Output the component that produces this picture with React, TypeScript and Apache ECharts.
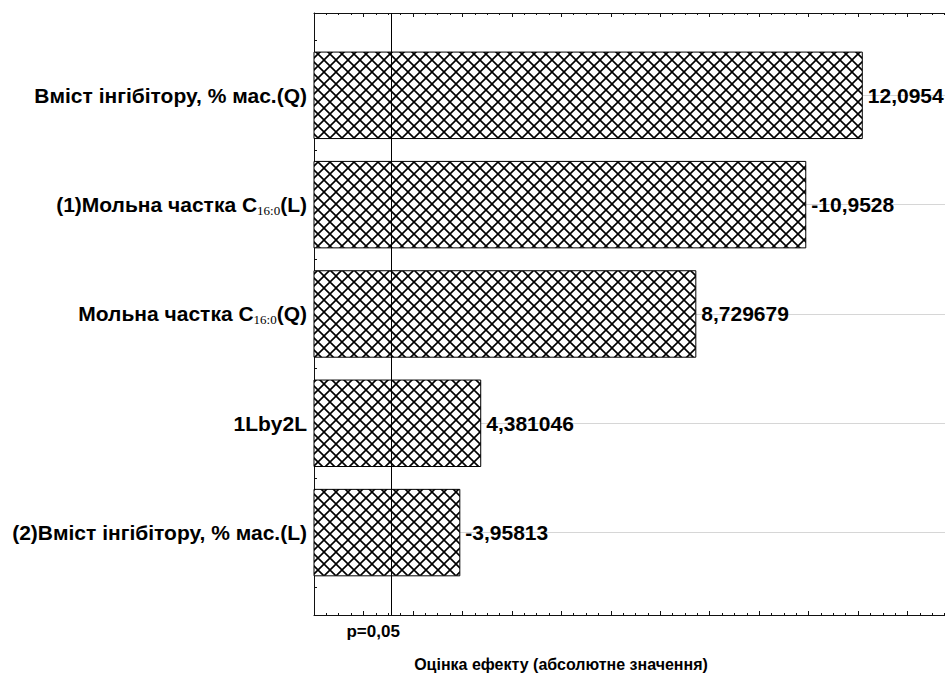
import React, { useEffect, useRef } from "react";
import * as echarts from "echarts";

// ---- data ----
const categories: string[] = [
  "Вміст інгібітору, % мас.(Q)",
  "(1)Мольна частка C_{16:0}(L)",
  "Мольна частка C_{16:0}(Q)",
  "1Lby2L",
  "(2)Вміст інгібітору, % мас.(L)",
];
const effects: number[] = [12.0954, -10.9528, 8.729679, 4.381046, -3.95813];
const pCritical = 2.5706;
const pLabel = "p=0,05";
const xMin = 1;
const xMax = 14;
const xStep = 1;
const xTitle = "Оцінка ефекту (абсолютне значення)";

const FONT = "'Liberation Sans', Arial, sans-serif";

function richLabel(s: string): string {
  return s
    .split(/(_\{[^}]*\})/)
    .filter((p) => p.length > 0)
    .map((p) => (p.startsWith("_{") ? `{sub|${p.slice(2, -1)}}` : `{b|${p}}`))
    .join("");
}

function fmt(v: number): string {
  return String(v).replace(".", ",");
}

function makeHatch(s: number): HTMLCanvasElement {
  const c = document.createElement("canvas");
  c.width = s;
  c.height = s;
  const ctx = c.getContext("2d")!;
  ctx.fillStyle = "#ffffff";
  ctx.fillRect(0, 0, s, s);
  ctx.strokeStyle = "#000000";
  ctx.lineWidth = 1.6;
  ctx.beginPath();
  ctx.moveTo(-1, -1);
  ctx.lineTo(s + 1, s + 1);
  ctx.moveTo(s + 1, -1);
  ctx.lineTo(-1, s + 1);
  ctx.stroke();
  return c;
}

export default function App() {
  const ref = useRef<HTMLDivElement>(null);
  useEffect(() => {
    if (!ref.current) return;
    const chart = echarts.init(ref.current, undefined, { renderer: "svg" });
    const hatchSize = 12;
    const hatch = makeHatch(hatchSize);
    const axisBlack = { color: "#111", width: 1 };
    const frameX = (position: "top" | "bottom") => ({
      gridIndex: 0,
      type: "value",
      position,
      min: xMin,
      max: xMax,
      interval: xStep,
      axisLine: { show: true, onZero: false, lineStyle: axisBlack },
      axisTick: { show: true, inside: true, length: 4, lineStyle: axisBlack },
      minorTick: { show: true, splitNumber: 4, length: 2, lineStyle: axisBlack },
      axisLabel: { show: false },
      splitLine: { show: false },
    });
    const hiddenX = (gridIndex: number) => ({
      gridIndex,
      type: "value",
      min: xMin,
      max: xMax,
      show: false,
      splitLine: { show: false },
    });
    const gridW = 643;
    const gridBase = { left: 314, width: gridW, outerBoundsMode: "none", containLabel: false };
    chart.setOption({
      animation: false,
      grid: [
        { ...gridBase, top: 13, height: 602 },
        { ...gridBase, top: 40.66, height: 546.6 },
        { ...gridBase, top: 95.32, height: 437.28 },
      ],
      xAxis: [frameX("bottom"), frameX("top"), hiddenX(1), hiddenX(2)],
      yAxis: [
        {
          gridIndex: 0,
          type: "value",
          min: 0,
          max: 1,
          axisLine: { show: true, onZero: false, lineStyle: axisBlack },
          axisTick: { show: false },
          axisLabel: { show: false },
          splitLine: { show: false },
        },
        {
          gridIndex: 1,
          type: "category",
          data: categories,
          inverse: true,
          axisLine: { show: false },
          axisTick: { show: true, inside: true, length: 3, lineStyle: axisBlack },
          axisLabel: {
            margin: 7,
            formatter: (v: string) => richLabel(v),
            rich: {
              b: {
                fontFamily: FONT,
                fontWeight: "bold",
                fontSize: 21,
                color: "#000",
                lineHeight: 24,
              },
              sub: {
                fontFamily: "'Liberation Serif', 'Times New Roman', serif",
                fontSize: 13,
                color: "#000",
                lineHeight: 15,
                verticalAlign: "bottom",
              },
            },
          },
          splitLine: { show: false },
        },
        {
          gridIndex: 2,
          type: "value",
          min: 0,
          max: 4,
          interval: 1,
          inverse: true,
          axisLine: { show: false },
          axisTick: { show: false },
          axisLabel: { show: false },
          splitLine: { show: true, lineStyle: { color: "#d6d6d6", width: 1 } },
        },
      ],
      series: [
        {
          type: "bar",
          xAxisIndex: 2,
          yAxisIndex: 1,
          data: effects.map((v) => Math.abs(v)),
          barWidth: "80%",
          z: 2,
          itemStyle: {
            color: {
              image: hatch,
              repeat: "repeat",
              imageWidth: hatchSize,
              imageHeight: hatchSize,
            } as any,
            borderColor: "#000",
            borderWidth: 1,
          },
          label: {
            show: true,
            position: "right",
            distance: 5,
            formatter: (p: any) => fmt(effects[p.dataIndex]),
            fontFamily: FONT,
            fontWeight: "bold",
            fontSize: 21,
            color: "#000",
          },
        },
        {
          type: "line",
          xAxisIndex: 0,
          yAxisIndex: 0,
          data: [],
          z: 3,
          markLine: {
            silent: true,
            symbol: ["none", "none"],
            lineStyle: { color: "#000", width: 1, type: "solid" },
            label: {
              show: true,
              position: "start",
              formatter: pLabel,
              distance: 8,
              fontFamily: FONT,
              fontWeight: "bold",
              fontSize: 17,
              color: "#000",
              padding: [0, 37, 0, 0],
            },
            data: [{ xAxis: pCritical }],
          },
        },
      ],
      graphic: [
        {
          type: "text",
          x: 561,
          y: 664,
          style: {
            text: xTitle,
            align: "center",
            verticalAlign: "middle",
            fontFamily: FONT,
            fontWeight: "bold",
            fontSize: 16,
            fill: "#000",
          },
        },
      ],
    });
    return () => chart.dispose();
  }, []);
  return (
    <div
      ref={ref}
      style={{
        position: "fixed",
        left: 0,
        top: 0,
        width: 945,
        height: 678,
        background: "#fff",
        overflow: "hidden",
      }}
    />
  );
}
